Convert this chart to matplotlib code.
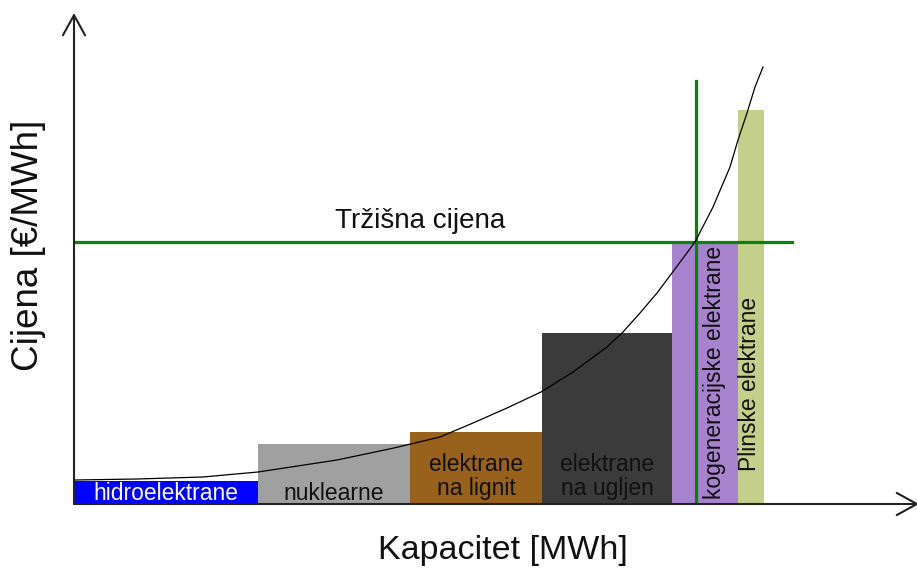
import matplotlib
matplotlib.use("Agg")
import matplotlib.pyplot as plt
import numpy as np

plt.rcParams['font.family'] = ['Liberation Sans', 'DejaVu Sans']

# ---- data (arbitrary units) ----
plant_names = ["hidroelektrane", "nuklearne", "elektrane\nna lignit",
               "elektrane\nna ugljen", "kogeneracijske elektrane", "Plinske elektrane"]
capacities = [184, 152, 132, 130, 66, 26]
prices = [23, 60, 72, 171, 262, 394]
bar_colors = ["#0000ff", "#a0a0a0", "#98611c", "#3b3b3b", "#a783cd", "#c4cf8b"]
label_colors = ["white", "#111111", "#111111", "#111111", "#111111", "#111111"]

market_price = 262
market_capacity = 622
market_label = "Tržišna cijena"

curve_x = [1, 63, 129, 184, 263, 320, 366, 399, 433, 467, 499, 533, 549, 566,
           583, 598, 621, 639, 656, 664, 673, 681, 689]
curve_y = [24, 25, 27, 32, 44, 56, 67, 81, 96, 112, 132, 157, 172, 191,
           211, 231, 262, 297, 337, 364, 391, 417, 437]

x_label = "Kapacitet [MWh]"
y_label = "Cijena [€/MWh]"

# ---- figure ----
W, H = 917, 568
fig = plt.figure(figsize=(W / 100, H / 100), dpi=100)
ax = fig.add_axes([74 / W, 64 / H, 843 / W, 504 / H])
ax.set_xlim(0, 843)
ax.set_ylim(0, 504)
ax.axis('off')

lefts = np.concatenate([[0], np.cumsum(capacities)[:-1]])
ax.bar(lefts, prices, width=capacities, align='edge', color=bar_colors,
       edgecolor='none', zorder=2)

# labels inside bars
green = "#0a820a"
for i, (name, l, w, p) in enumerate(zip(plant_names, lefts, capacities, prices)):
    cx = l + w / 2
    if i < 2:
        ax.text(cx, 4, name, ha='center', va='baseline', fontsize=16.5,
                color=label_colors[i], zorder=5)
    elif i < 4:
        ax.text(cx, 4, name, ha='center', va='bottom', fontsize=16.5,
                color=label_colors[i], linespacing=1.05, zorder=5)
    elif i == 4:
        ax.text(cx + 10, 132, name, ha='center', va='center', rotation=90,
                fontsize=16.5, color=label_colors[i], zorder=5)
    else:
        ax.text(cx - 1, 120, name, ha='center', va='center', rotation=90,
                fontsize=16.5, color=label_colors[i], zorder=5)

# supply curve
ax.plot(curve_x, curve_y, color='black', lw=0.9, zorder=4, clip_on=False,
        solid_joinstyle='round')

# market price lines
ax.plot([0, 718], [market_price, market_price], color=green, lw=2.3, zorder=3)
ax.plot([market_capacity, market_capacity], [0, 423], color=green, lw=2.3, zorder=3)
ax.text(346, 276, market_label, ha='center', va='baseline', fontsize=20, color='#111111')

# axes with arrows
arrow = dict(arrowstyle='->, head_length=1.45, head_width=0.8', mutation_scale=10,
             lw=1.5, color='#222222', shrinkA=0, shrinkB=0)
ax.annotate('', xy=(0, 491), xytext=(0, 0), arrowprops=arrow, annotation_clip=False, zorder=6)
ax.annotate('', xy=(845, 0), xytext=(0, 0), arrowprops=arrow, annotation_clip=False, zorder=6)

fig.text(503 / W, 1 - 550 / H, x_label, ha='center', va='center', fontsize=24.5, color='#111111')
fig.text(29 / W, 1 - 245 / H, y_label, ha='center', va='center', fontsize=26.5,
         rotation=90, color='#111111')

fig.savefig("out.png", dpi=100, facecolor='white')
